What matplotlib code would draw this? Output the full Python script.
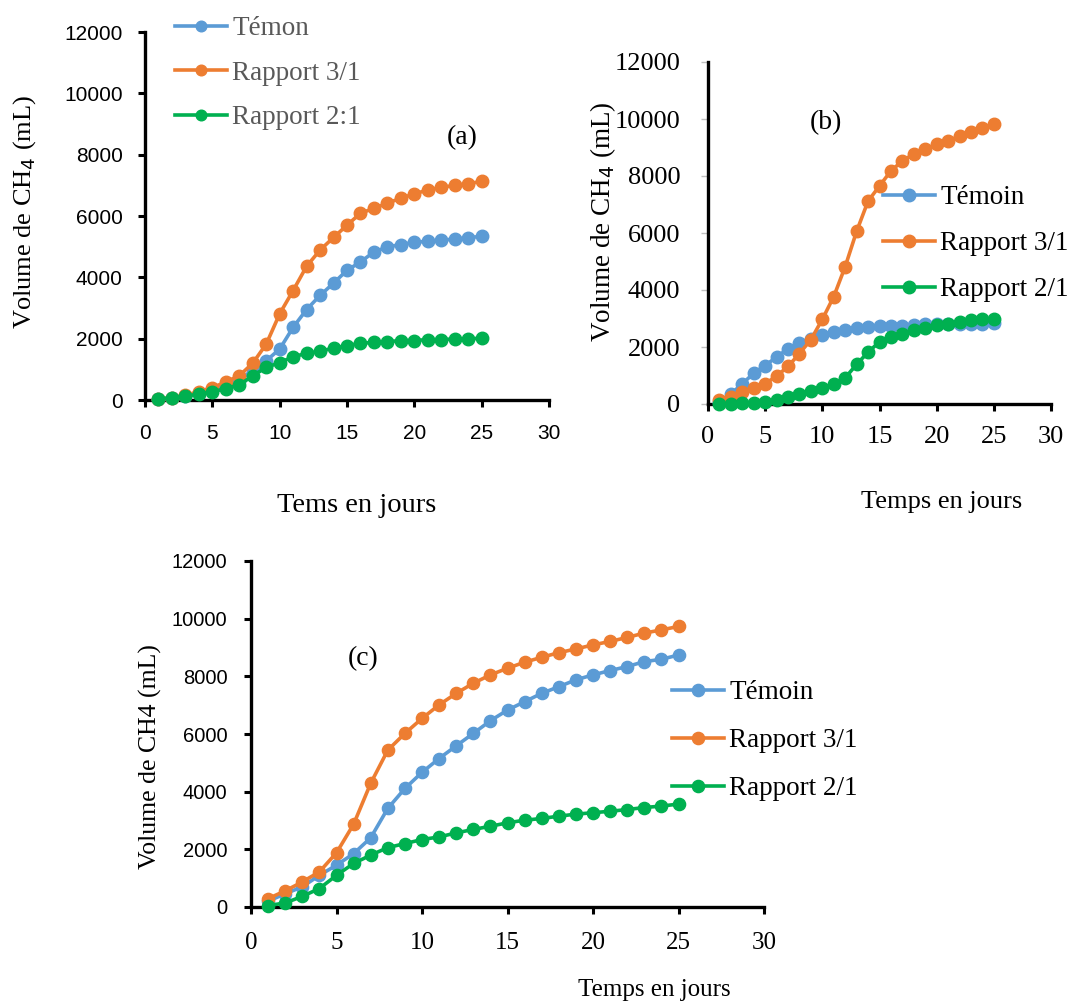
import matplotlib
matplotlib.use("Agg")
import matplotlib.pyplot as plt

days = list(range(1, 26))

a_temoin = [20, 60, 130, 230, 330, 460, 620, 1000, 1280, 1660, 2370, 2950, 3410, 3810, 4230,
            4500, 4830, 4990, 5070, 5140, 5180, 5210, 5250, 5290, 5340]
a_r31 = [30, 80, 150, 270, 400, 590, 790, 1200, 1820, 2810, 3570, 4360, 4890, 5300, 5700,
         6090, 6250, 6420, 6580, 6720, 6850, 6930, 7000, 7050, 7130]
a_r21 = [30, 80, 130, 190, 270, 370, 490, 790, 1060, 1220, 1410, 1520, 1590, 1690, 1770,
         1850, 1880, 1900, 1940, 1940, 1970, 1970, 1990, 1990, 2020]

b_temoin = [60, 350, 710, 1080, 1350, 1650, 1940, 2140, 2290, 2410, 2530, 2610, 2670, 2710, 2730,
            2740, 2750, 2770, 2790, 2800, 2800, 2810, 2810, 2820, 2830]
b_r31 = [140, 260, 410, 550, 710, 980, 1320, 1770, 2260, 2970, 3770, 4820, 6060, 7120, 7650,
         8180, 8530, 8770, 8940, 9120, 9240, 9390, 9530, 9670, 9820]
b_r21 = [0, 0, 20, 30, 60, 140, 240, 350, 470, 550, 710, 920, 1390, 1820, 2180,
         2350, 2470, 2590, 2680, 2770, 2820, 2880, 2940, 2970, 3000]

c_temoin = [200, 460, 700, 1100, 1450, 1850, 2400, 3420, 4110, 4670, 5150, 5590, 6020, 6460, 6830,
            7120, 7410, 7640, 7880, 8050, 8200, 8340, 8510, 8590, 8740]
c_r31 = [290, 560, 870, 1220, 1880, 2870, 4290, 5440, 6020, 6540, 7010, 7410, 7760, 8050, 8280,
         8490, 8660, 8820, 8950, 9090, 9210, 9350, 9500, 9610, 9730]
c_r21 = [50, 140, 370, 640, 1100, 1510, 1800, 2060, 2200, 2340, 2430, 2570, 2690, 2800, 2920,
         3010, 3070, 3150, 3220, 3270, 3320, 3380, 3450, 3500, 3570]

labels_a = ["Témon", "Rapport 3/1", "Rapport 2:1"]
labels_bc = ["Témoin", "Rapport 3/1", "Rapport 2/1"]
xticks = [0, 5, 10, 15, 20, 25, 30]
yticks = [0, 2000, 4000, 6000, 8000, 10000, 12000]

COLORS = ["#5B9BD5", "#ED7D31", "#00B050"]
SERIF = "Liberation Serif"
SANS = "Liberation Sans"

W, H = 1073, 1001
fig = plt.figure(figsize=(W / 100, H / 100), dpi=100)


def px_axes(x0, x1, y0, y1):
    return fig.add_axes([x0 / W, 1 - y0 / H, (x1 - x0) / W, (y0 - y1) / H])


def style(ax, xfont, xsize, yfont, ysize, xpad, ypad, ytick_color="black", ytick_w=2.2):
    for s in ["top", "right"]:
        ax.spines[s].set_visible(False)
    for s in ["left", "bottom"]:
        ax.spines[s].set_linewidth(2.4)
        ax.spines[s].set_color("black")
    ax.set_xlim(0, 30)
    ax.set_ylim(0, 12000)
    ax.set_xticks(xticks)
    ax.set_yticks(yticks)
    ax.tick_params(axis="x", direction="out", length=5, width=2.2, pad=xpad,
                   labelsize=xsize, labelfontfamily=xfont)
    ax.tick_params(axis="y", direction="out", length=5, width=ytick_w, color=ytick_color, pad=ypad,
                   labelsize=ysize, labelfontfamily=yfont)
    ax.patch.set_alpha(0)


def plot_series(ax, series, labels, ms=9):
    for ys, lab, col in zip(series, labels, COLORS):
        ax.plot(days, ys, "-o", color=col, lw=2.6, ms=ms, label=lab, clip_on=False, zorder=3)


# ---------- (a)
axa = px_axes(145, 549, 400, 32)
plot_series(axa, [a_temoin, a_r31, a_r21], labels_a)
style(axa, SANS, 15, SANS, 15, 12, 11)
axa.set_ylabel("Volume de CH$_4$ (mL)", family=SERIF, fontsize=19, va="center")
axa.yaxis.set_label_coords((25 - 145) / 404, 0.51)
axa.set_xlabel("Tems en jours", family=SERIF, fontsize=20.5, va="center")
axa.xaxis.set_label_coords(0.525, (400 - 505) / 368)
axa.text(0.785, 0.712, "(a)", transform=axa.transAxes, family=SERIF, fontsize=20,
         ha="center", va="center")
leg = axa.legend(loc="upper left", bbox_to_anchor=(175 / W, 1 - 16 / H), bbox_transform=fig.transFigure,
                 frameon=False, prop={"family": SERIF, "size": 19.5}, handlelength=1.93,
                 handletextpad=0.18, labelspacing=0.72, borderpad=0, borderaxespad=0, markerscale=0.85)
for t in leg.get_texts():
    t.set_color("#595959")

# ---------- (b)
axb = px_axes(708, 1051, 404, 62)
plot_series(axb, [b_temoin, b_r31, b_r21], labels_bc)
style(axb, SERIF, 19, SERIF, 19, 11, 15, ytick_color="#BFBFBF", ytick_w=1.0)
axb.set_ylabel("Volume de CH$_4$ (mL)", family=SERIF, fontsize=19.5, va="center")
axb.yaxis.set_label_coords((603 - 708) / 343, 0.532)
axb.set_xlabel("Temps en jours", family=SERIF, fontsize=19, va="center")
axb.xaxis.set_label_coords(0.68, (404 - 502) / 342)
axb.text(0.344, 0.822, "(b)", transform=axb.transAxes, family=SERIF, fontsize=20,
         ha="center", va="center")
axb.legend(loc="upper left", bbox_to_anchor=(883 / W, 1 - 185 / H), bbox_transform=fig.transFigure,
           frameon=False, prop={"family": SERIF, "size": 19.5}, handlelength=1.93,
           handletextpad=0.18, labelspacing=0.78, borderpad=0, borderaxespad=0)

# ---------- (c)
axc = px_axes(251, 764, 907, 561)
plot_series(axc, [c_temoin, c_r31, c_r21], labels_bc, ms=8.8)
style(axc, SERIF, 18, SANS, 14.5, 13, 12)
axc.set_ylabel("Volume de CH4 (mL)", family=SERIF, fontsize=18.5, va="center")
axc.yaxis.set_label_coords((150 - 251) / 513, 0.435)
axc.set_xlabel("Temps en jours", family=SERIF, fontsize=18, va="center")
axc.xaxis.set_label_coords(0.787, (907 - 990) / 346)
axc.text(0.218, 0.717, "(c)", transform=axc.transAxes, family=SERIF, fontsize=20,
         ha="center", va="center")
axc.legend(loc="upper left", bbox_to_anchor=(672 / W, 1 - 680 / H), bbox_transform=fig.transFigure,
           frameon=False, prop={"family": SERIF, "size": 19.5}, handlelength=1.93,
           handletextpad=0.18, labelspacing=0.85, borderpad=0, borderaxespad=0)

fig.savefig("out.png", dpi=100)
